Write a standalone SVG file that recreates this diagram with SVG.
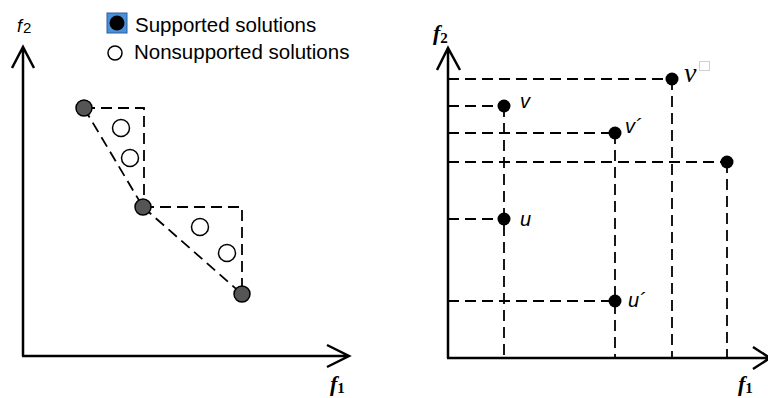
<svg xmlns="http://www.w3.org/2000/svg" width="768" height="398" viewBox="0 0 768 398">
<style>
.axis{stroke:#000;stroke-width:2.5;fill:none}
.dash{stroke:#000;stroke-width:1.8;fill:none;stroke-dasharray:11 6}
.sup{fill:#555;stroke:#000;stroke-width:1.5}
.non{fill:#fff;stroke:#000;stroke-width:1.5}
.pt{fill:#000}
.lbl{font-family:"Liberation Sans",Arial,sans-serif;font-size:20.5px;fill:#000}
.var{font-family:"Liberation Sans",Arial,sans-serif;font-size:20px;font-style:italic;fill:#000}
.math{font-family:"Liberation Serif","Times New Roman",serif;font-style:italic;font-weight:bold;font-size:22px;fill:#000}
.sub{font-style:normal;font-size:15px}
</style>
<g id="left-axes">
<path class="axis" d="M23 356 V47 M12 68 L23 47 L34 68"/>
<path class="axis" d="M22 356 H349 M327 345 L349 356 L327 367"/>
<text class="var" x="17" y="32" style="font-size:18px">f<tspan style="font-style:normal;font-size:15px" dx="1" dy="1">2</tspan></text>
<text class="math" x="330" y="391">f<tspan class="sub" dy="2">1</tspan></text>
</g>
<g id="legend">
<rect x="107" y="13" width="20" height="20" fill="#4a90d9" stroke="#2a5fa0" stroke-width="1"/>
<circle cx="117" cy="23" r="7.5" fill="#000"/>
<text class="lbl" x="135" y="32">Supported solutions</text>
<circle cx="115" cy="53" r="7" class="non"/>
<text class="lbl" x="134" y="59">Nonsupported solutions</text>
</g>
<g id="connectors">
<path class="dash" d="M84 108 H144 V207 M84 108 L143 207"/>
<path class="dash" d="M143 207 H242 V294 M143 207 L242 294"/>
<path class="dash" d="M448 79 H672 M448 106 H504 M448 133 H615 M448 162 H727 M448 219 H504 M448 301 H615"/>
<path class="dash" d="M504 106 V358 M615 133 V358 M672 79 V358 M727 162 V358"/>
</g>
<g id="left-points">
<circle id="s1" cx="84" cy="108" r="8" class="sup"/>
<circle id="s2" cx="143" cy="207" r="8" class="sup"/>
<circle id="s3" cx="242" cy="294" r="8" class="sup"/>
<circle id="n1" cx="121" cy="128" r="8.5" class="non"/>
<circle id="n2" cx="130" cy="158" r="8.5" class="non"/>
<circle id="n3" cx="200" cy="227" r="8.5" class="non"/>
<circle id="n4" cx="227" cy="253" r="8.5" class="non"/>
</g>
<g id="right-axes">
<path class="axis" d="M448 358 V48 M437 70 L448 48 L460 70"/>
<path class="axis" d="M447 358 H768 M753 347 L770 358 L753 369"/>
<text class="math" x="433" y="40">f<tspan class="sub" dy="3">2</tspan></text>
<text class="math" x="738" y="391">f<tspan class="sub" dy="2">1</tspan></text>
</g>
<g id="vstar"><circle cx="672" cy="79" r="6.5" class="pt"/><text x="684" y="82" style="font-family:'Liberation Serif',serif;font-style:italic;font-size:28px">v</text><rect x="699.5" y="61.5" width="10" height="9" fill="none" stroke="#888" stroke-width="0.8" stroke-dasharray="1 1"/></g>
<g id="v"><circle cx="504" cy="106" r="6.5" class="pt"/><text class="var" x="520" y="108">v</text></g>
<g id="vp"><circle cx="615" cy="133" r="6.5" class="pt"/><text class="var" x="625" y="133">v´</text></g>
<g id="p4"><circle cx="727" cy="162" r="6.5" class="pt"/></g>
<g id="u"><circle cx="504" cy="219" r="6.5" class="pt"/><text class="var" x="520" y="226">u</text></g>
<g id="up"><circle cx="615" cy="301" r="6.5" class="pt"/><text class="var" x="628" y="307">u´</text></g>
</svg>
